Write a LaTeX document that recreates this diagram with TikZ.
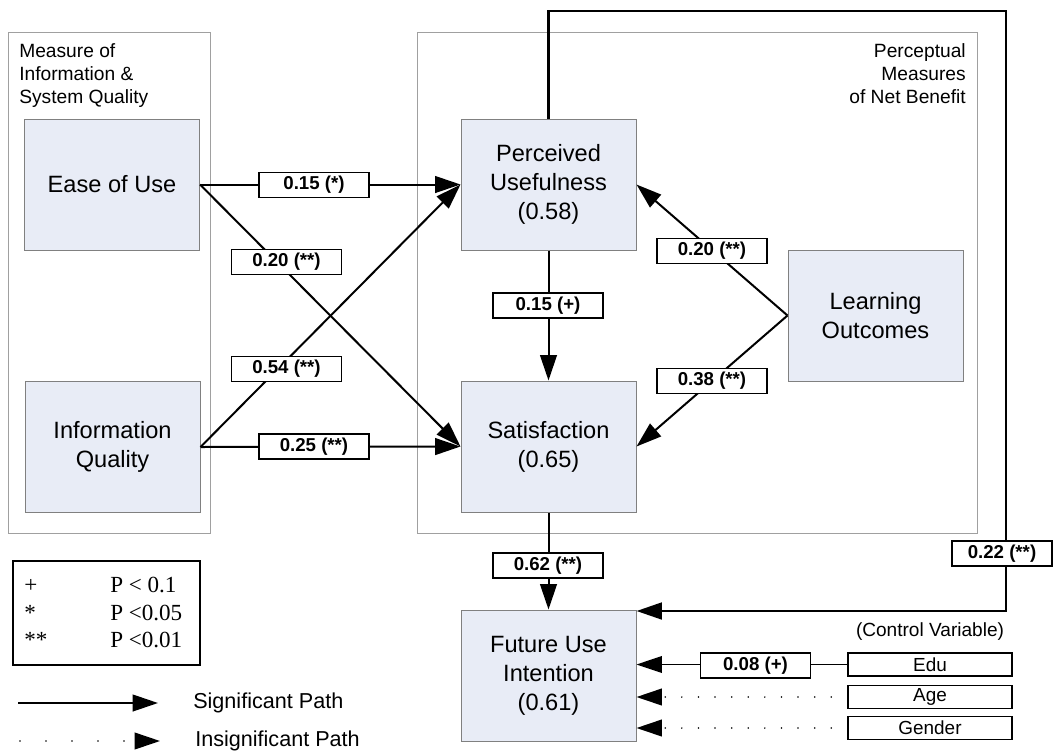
\documentclass[tikz,border=0pt]{standalone}
\usepackage{fontspec}
\setmainfont{Liberation Sans}
\newfontfamily\timesfont{Liberation Serif}
\usetikzlibrary{arrows.meta}
\definecolor{boxfill}{HTML}{E8ECF6}
\definecolor{boxline}{HTML}{808080}
\definecolor{contline}{HTML}{A0A0A0}
\begin{document}
\begin{tikzpicture}[x=0.75pt,y=-0.75pt,
  container/.style={draw=contline, line width=0.75pt, inner sep=0pt},
  var/.style={draw=boxline, line width=0.75pt, fill=boxfill, minimum width=131.25pt, minimum height=98.25pt, inner sep=0pt, align=center, font=\fontsize{17.7}{21.7}\selectfont},
  coef/.style={draw=black, line width=1.1pt, fill=white, minimum width=82.5pt, minimum height=18.5pt, inner sep=0pt, font=\fontsize{14}{16}\bfseries\selectfont},
  ctrl/.style={draw=black, line width=1.1pt, fill=white, minimum width=123pt, minimum height=17pt, inner sep=0pt, font=\fontsize{14.2}{16}\selectfont},
  title/.style={inner sep=0pt, font=\fontsize{14.4}{17.5}\selectfont},
  sig/.style={line width=1.5pt, -{Triangle[length=19pt,width=12.5pt]}},
  insig/.style={line width=1.3pt, line cap=round, dash pattern=on 0pt off 12.45pt, -{Triangle[length=19pt,width=12.5pt]}},
  legtxt/.style={inner sep=0pt, font=\timesfont\fontsize{17.3}{20}\selectfont},
]
\useasboundingbox (0,0) rectangle (1058,751);

% containers
\node[container, minimum width=151.5pt, minimum height=375.75pt] (leftc) at (109,282.5) {};
\node[container, minimum width=420pt, minimum height=375.75pt] (rightc) at (697,282.5) {};
\node[title, anchor=north west, align=left] (lefttitle) at (19,43) {Measure of\\Information \&\\System Quality};
\node[title, anchor=north east, align=right] (righttitle) at (966,43) {Perceptual\\Measures\\of Net Benefit};

% variables
\node[var] (ease) at (112,184.5) {Ease of Use};
\node[var] (info) at (112.5,447) {Information\\Quality};
\node[var] (pu) at (548.5,184.5) {Perceived\\Usefulness\\(0.58)};
\node[var] (sat) at (548.5,446.5) {Satisfaction\\(0.65)};
\node[var] (lo) at (875.5,315.5) {Learning\\Outcomes};
\node[var] (fui) at (548.5,675.5) {Future Use\\Intention\\(0.61)};

% control variables
\node[inner sep=0pt, font=\fontsize{14.3}{16}\selectfont] (ctrltitle) at (930,632) {(Control Variable)};
\node[ctrl] (edu) at (930,664.5) {Edu};
\node[ctrl] (age) at (930,697) {Age};
\node[ctrl] (gender) at (930,728) {Gender};

% paths
\draw[sig] (ease.east) -- (pu.west);
\draw[sig] (ease.east) -- (sat.west);
\draw[sig] (info.east) -- (pu.west);
\draw[sig] (info.east) -- (sat.west);
\draw[sig] (lo.west) -- (pu.east);
\draw[sig] (lo.west) -- (sat.east);
\draw[sig] (pu.south) -- (sat.north);
\draw[sig] (sat.south) -- (fui.north);
\coordinate (lt) at (1006,11);
\coordinate (lb) at (1006,611);
\draw[line width=2pt, -{Triangle[length=19pt,width=12.5pt]}] (pu.north) |- (lt) -- (lb) -- (fui.east |- lb);
\draw[line width=1pt, -{Triangle[length=19pt,width=12.5pt]}] (edu.west) -- (fui.east |- edu.west);
\draw[insig] ([xshift=-12pt]age.west) -- (fui.east |- age.west);
\draw[insig] ([xshift=-12pt]gender.west) -- (fui.east |- gender.west);

% coefficients
\node[coef] (c1) at (314,185) {0.15 (*)};
\node[coef] (c2) at (286.5,262) {0.20 (**)};
\node[coef] (c3) at (286.5,369) {0.54 (**)};
\node[coef] (c4) at (314,446.5) {0.25 (**)};
\node[coef] (c5) at (548,305.5) {0.15 (+)};
\node[coef] (c6) at (712,251) {0.20 (**)};
\node[coef] (c7) at (712,381) {0.38 (**)};
\node[coef] (c8) at (548,565.5) {0.62 (**)};
\node[coef, minimum width=75pt] (c9) at (1002,553.5) {0.22 (**)};
\node[coef] (c10) at (755.5,665.5) {0.08 (+)};

% legend
\node[draw=black, line width=2.2pt, minimum width=140.25pt, minimum height=78pt, inner sep=0pt] (legend) at (106.5,613) {};
\node[legtxt, anchor=base west] (s1) at (24,592) {+};
\node[legtxt, anchor=base west] (p1) at (110,592) {P < 0.1};
\node[legtxt, anchor=base west] (s2) at (24,620) {*};
\node[legtxt, anchor=base west] (p2) at (110,620) {P <0.05};
\node[legtxt, anchor=base west] (s3) at (24,647) {**};
\node[legtxt, anchor=base west] (p3) at (110,647) {P <0.01};

\coordinate (sg1) at (18,703);
\coordinate (sg2) at (158,703);
\draw[sig] (sg1) -- (sg2);
\node[inner sep=0pt, anchor=west, font=\fontsize{16.2}{18}\selectfont] (sigt) at (193,703) {Significant Path};
\coordinate (in1) at (20,741);
\coordinate (in2) at (160,741);
\draw[line width=1.3pt, line cap=round, dash pattern=on 0pt off 19.5pt, -{Triangle[length=19pt,width=12.5pt]}] (in1) -- (in2);
\node[inner sep=0pt, anchor=west, font=\fontsize{16.2}{18}\selectfont] (insigt) at (195,741) {Insignificant Path};
\end{tikzpicture}
\end{document}
